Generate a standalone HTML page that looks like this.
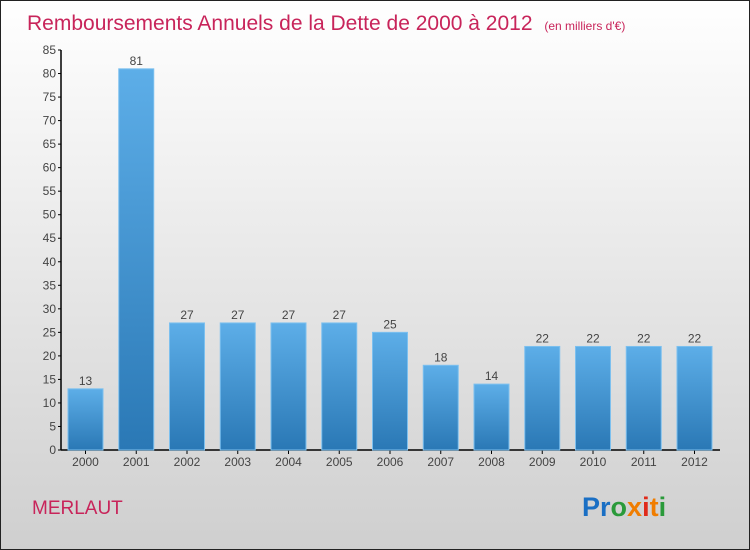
<!DOCTYPE html>
<html><head><meta charset="utf-8"><style>
html,body{margin:0;padding:0;width:750px;height:550px;overflow:hidden}
svg{display:block;font-family:"Liberation Sans",sans-serif}
</style></head><body>
<svg id="chart" width="750" height="550">
<defs>
<linearGradient id="bg" x1="0" y1="0" x2="0" y2="1"><stop offset="0" stop-color="#ffffff"/><stop offset="1" stop-color="#cfcfcf"/></linearGradient>
<linearGradient id="bar" x1="0" y1="0" x2="0" y2="1"><stop offset="0" stop-color="#5daee8"/><stop offset="1" stop-color="#2a78b5"/></linearGradient>
</defs>
<rect x="0.5" y="0.5" width="749" height="549" fill="url(#bg)" stroke="#222"/>
<text x="27" y="30" font-size="21" fill="#c8245a">Remboursements Annuels de la Dette de 2000 à 2012 <tspan font-size="12" dx="6">(en milliers d'€)</tspan></text>
<text x="32" y="514" font-size="19" fill="#c8245a">MERLAUT</text>
<g font-size="27" font-weight="bold">
<text x="582" y="516"><tspan fill="#1a6fc4">Pr</tspan><tspan fill="#2a9a3a">o</tspan><tspan fill="#f07d00">x</tspan><tspan fill="#e02a1a">i</tspan><tspan fill="#f07d00">t</tspan><tspan fill="#2a9a3a">i</tspan></text>
</g>
<g id="axes"></g>
<g id="bars"></g>
</svg>
<script>
const categories=["2000","2001","2002","2003","2004","2005","2006","2007","2008","2009","2010","2011","2012"];
const values=[13,81,27,27,27,27,25,18,14,22,22,22,22];
const yTicks=[0,5,10,15,20,25,30,35,40,45,50,55,60,65,70,75,80,85];
const yMax=85;
const NS="http://www.w3.org/2000/svg";
const y0=450,yTop=50,x0=61,firstC=85.5,step=50.75,bw=35;
const yScale=v=>y0-(v/yMax)*(y0-yTop);
const xScale=i=>firstC+i*step;
function mk(t,a,p){const e=document.createElementNS(NS,t);for(const k in a)e.setAttribute(k,a[k]);p.appendChild(e);return e;}
const axes=document.getElementById('axes'),bars=document.getElementById('bars');
const ya=mk('line',{x1:x0,y1:yTop,x2:x0,y2:y0,stroke:'#000','stroke-width':1.5},axes);


const xa=mk('line',{x1:x0,y1:y0,x2:720,y2:y0,stroke:'#000','stroke-width':1.5},axes);


yTicks.forEach(v=>{const y=yScale(v);
mk('line',{x1:x0-3,y1:y,x2:x0,y2:y,stroke:'#000'},axes);
const t=mk('text',{x:x0-5,y:y+4,'font-size':12,fill:'#444','text-anchor':'end'},axes);t.textContent=v;

});
categories.forEach((c,i)=>{const cx=xScale(i),v=values[i],y=yScale(v);
const r=mk('rect',{x:cx-bw/2,y:y,width:bw,height:y0-y,fill:'url(#bar)',stroke:'#7cc0ef','stroke-width':1},bars);


mk('line',{x1:cx,y1:y0,x2:cx,y2:y0+4,stroke:'#000'},axes);
const l=mk('text',{x:cx,y:y0+16,'font-size':12,fill:'#444','text-anchor':'middle'},axes);l.textContent=c;


const vl=mk('text',{x:cx,y:y-4,'font-size':12,fill:'#444','text-anchor':'middle'},bars);vl.textContent=v;

});
</script>
</body></html>
